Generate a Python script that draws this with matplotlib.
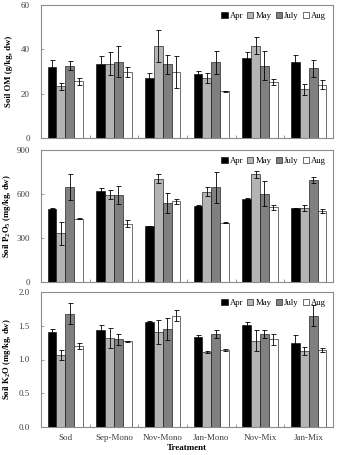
import matplotlib
matplotlib.use("Agg")
import matplotlib.pyplot as plt
import numpy as np

treatments = ["Sod", "Sep-Mono", "Nov-Mono", "Jan-Mono", "Nov-Mix", "Jan-Mix"]
months = ["Apr", "May", "July", "Aug"]

om_apr = [32.1, 33.6, 27.1, 28.8, 36.2, 34.2]
om_may = [23.4, 33.6, 41.6, 27.1, 41.6, 21.9]
om_jul = [32.7, 34.5, 33.2, 34.1, 32.7, 31.4]
om_aug = [25.6, 29.9, 29.6, 21.0, 25.3, 24.1]
om_apr_e = [3.0, 3.5, 2.3, 1.4, 2.4, 3.2]
om_may_e = [1.6, 5.3, 7.1, 2.2, 3.8, 2.4]
om_jul_e = [2.0, 6.8, 4.2, 5.3, 6.7, 3.9]
om_aug_e = [1.5, 2.2, 7.2, 0.3, 1.4, 2.0]

p_apr = [500, 620, 381, 520, 569, 503]
p_may = [332, 596, 704, 615, 733, 505]
p_jul = [649, 591, 540, 646, 602, 695]
p_aug = [430, 398, 549, 403, 509, 485]
p_apr_e = [2, 20, 3, 2, 4, 2]
p_may_e = [80, 33, 29, 31, 22, 22]
p_jul_e = [90, 62, 69, 104, 84, 18]
p_aug_e = [3, 24, 15, 4, 18, 15]

k_apr = [1.41, 1.43, 1.56, 1.34, 1.51, 1.24]
k_may = [1.07, 1.32, 1.41, 1.11, 1.28, 1.12]
k_jul = [1.68, 1.30, 1.45, 1.38, 1.38, 1.65]
k_aug = [1.20, 1.27, 1.65, 1.14, 1.30, 1.14]
k_apr_e = [0.04, 0.08, 0.01, 0.03, 0.04, 0.13]
k_may_e = [0.07, 0.15, 0.18, 0.01, 0.15, 0.06]
k_jul_e = [0.15, 0.08, 0.16, 0.06, 0.06, 0.16]
k_aug_e = [0.05, 0.01, 0.08, 0.02, 0.08, 0.03]

plt.rcParams['font.family'] = ['Liberation Serif', 'DejaVu Serif']
plt.rcParams['mathtext.fontset'] = 'custom'
plt.rcParams['mathtext.rm'] = 'Liberation Serif'
plt.rcParams['mathtext.bf'] = 'Liberation Serif:bold'

W, H = 341, 455
fig = plt.figure(figsize=(W / 100, H / 100), dpi=100)

def add_ax(top, bottom, left=41, right=333):
    return fig.add_axes([left / W, (H - bottom) / H, (right - left) / W, (bottom - top) / H])

colors = ["#000000", "#b4b4b4", "#808080", "#ffffff"]
spine_c = "#8c8c8c"
tick_c = "#404040"

panels = [
    (add_ax(5, 138), [om_apr, om_may, om_jul, om_aug], [om_apr_e, om_may_e, om_jul_e, om_aug_e],
     (0, 60), [0, 20, 40, 60], "%d", r"Soil OM (g/kg, dw)"),
    (add_ax(150, 282), [p_apr, p_may, p_jul, p_aug], [p_apr_e, p_may_e, p_jul_e, p_aug_e],
     (0, 900), [0, 300, 600, 900], "%d", r"Soil P$_\mathbf{2}$O$_\mathbf{5}$ (mg/kg, dw)"),
    (add_ax(292, 427), [k_apr, k_may, k_jul, k_aug], [k_apr_e, k_may_e, k_jul_e, k_aug_e],
     (0, 2.0), [0.0, 0.5, 1.0, 1.5, 2.0], "%.1f", r"Soil K$_\mathbf{2}$O (mg/kg, dw)"),
]

x = np.arange(len(treatments))
bw = 0.183
for i, (ax, vals, errs, ylim, yt, fmt, ylab) in enumerate(panels):
    for j in range(4):
        ax.bar(x + (j - 1.5) * bw, vals[j], bw, color=colors[j], edgecolor="black",
               linewidth=0.4, label=months[j],
               yerr=errs[j], error_kw=dict(ecolor="black", elinewidth=0.6, capsize=1.8, capthick=0.6))
    ax.set_xlim(-0.5, len(treatments) - 0.5)
    ax.set_ylim(*ylim)
    ax.set_yticks(yt)
    ax.set_yticklabels([fmt % v for v in yt])
    ax.tick_params(axis="y", direction="in", length=2.5, width=0.6, color=spine_c,
                   labelsize=6.5, labelcolor=tick_c, pad=8)
    ax.set_xticks(np.arange(0.5, len(treatments) - 0.5), minor=True)
    ax.tick_params(axis="x", which="minor", direction="in", length=2.5, width=0.6, color=spine_c)
    ax.set_xticks(x)
    if i == 2:
        ax.set_xticklabels(treatments)
        ax.set_xlabel("Treatment", fontsize=6.5, fontweight="bold", labelpad=1.5)
    else:
        ax.set_xticklabels([])
    ax.tick_params(axis="x", which="major", length=0, labelsize=6.5, labelcolor=tick_c, pad=5)
    for s in ax.spines.values():
        s.set_color(spine_c)
        s.set_linewidth(0.8)
    ax.set_ylabel(ylab, fontsize=6.3, fontweight="bold", labelpad=6)
    ax.yaxis.set_label_coords(-0.095, 0.5)
    ax.legend(loc="upper right", ncol=4, frameon=False, fontsize=6.2,
              handlelength=0.7, handleheight=0.7, handletextpad=0.25, columnspacing=0.5,
              borderaxespad=0.4)

fig.savefig("out.png", dpi=100)
